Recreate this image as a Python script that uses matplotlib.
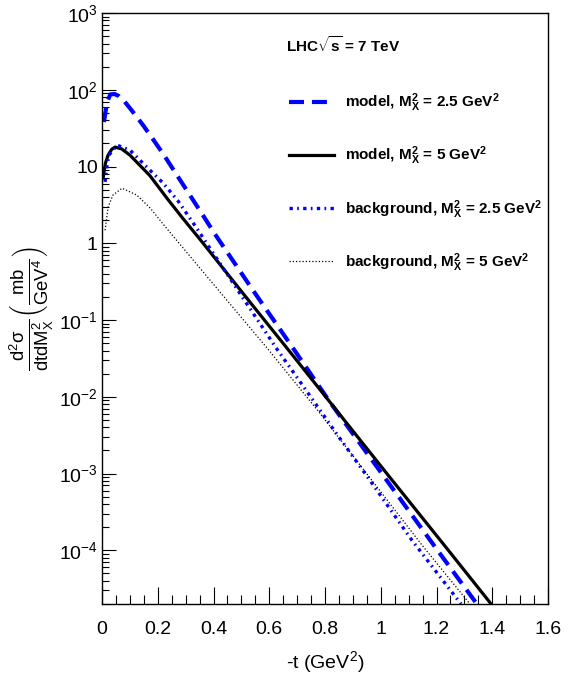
import math
import matplotlib
matplotlib.use('Agg')
import matplotlib.pyplot as plt
from matplotlib.ticker import FixedLocator, MultipleLocator, LogLocator, FuncFormatter, NullFormatter

plt.rcParams['font.family'] = ['Liberation Sans', 'DejaVu Sans']
plt.rcParams['mathtext.fontset'] = 'custom'
plt.rcParams['mathtext.rm'] = 'Liberation Sans'
plt.rcParams['mathtext.it'] = 'Liberation Sans'
plt.rcParams['mathtext.bf'] = 'Liberation Sans:bold'

# -t (GeV^2) and d2sigma/dtdMx2 (mb/GeV^4)
t_model_25 = [0.007, 0.018, 0.030, 0.045, 0.060, 0.080, 0.109, 0.148, 0.184, 0.220,
              0.363, 0.405, 0.543, 0.686, 0.818, 1.202, 1.345]
y_model_25 = [38.0, 69.0, 87.0, 88.0, 83.0, 71.0, 52.5, 34.3, 22.4, 14.5,
              2.29, 1.32, 0.24, 0.0427, 0.0085, 1.02e-4, 2.0e-5]

t_model_5 = [0.004, 0.012, 0.022, 0.035, 0.047, 0.070, 0.100, 0.130, 0.172, 0.237,
             0.291, 0.352, 0.531, 0.664, 1.033, 1.231, 1.396]
y_model_5 = [7.1, 11.0, 14.1, 16.8, 17.9, 17.0, 14.1, 10.9, 7.6, 3.7,
             2.09, 1.12, 0.171, 0.0429, 8.9e-4, 1.13e-4, 2.0e-5]

t_bkg_25 = [0.011, 0.017, 0.025, 0.054, 0.100, 0.161, 0.219, 0.273, 0.341, 0.370,
            0.628, 0.707, 0.843, 0.954, 1.112, 1.288]
y_bkg_25 = [6.3, 9.8, 14.1, 19.0, 16.4, 9.8, 6.1, 3.55, 1.55, 1.07,
            0.0416, 0.0164, 3.24e-3, 8.9e-4, 1.35e-4, 2.0e-5]

t_bkg_5 = [0.011, 0.022, 0.039, 0.072, 0.125, 0.175, 0.226, 0.380, 0.596, 0.782,
           1.148, 1.320]
y_bkg_5 = [1.48, 2.96, 4.24, 5.22, 4.24, 2.82, 1.66, 0.357, 0.0416, 6.1e-3,
           1.17e-4, 2.0e-5]

mx = r'$\mathbf{M}_{\mathbf{X}}^{\mathbf{2}}$'
labels = ['model, ' + mx + r' = 2.5 GeV$^{\mathbf{2}}$',
          'model, ' + mx + r' = 5 GeV$^{\mathbf{2}}$',
          'background, ' + mx + r' = 2.5 GeV$^{\mathbf{2}}$',
          'background, ' + mx + r' = 5 GeV$^{\mathbf{2}}$']

fig = plt.figure(figsize=(5.72, 6.82), dpi=100)
ax = fig.add_axes([102/572, 1 - 604/682, 446/572, 591/682])

ax.plot(t_model_25, y_model_25, color='#0000ff', lw=3.0, dashes=(3.6, 1.9), label=labels[0])
ax.plot(t_model_5, y_model_5, color='black', lw=2.3, label=labels[1])
ax.plot(t_bkg_25, y_bkg_25, color='#0000ff', lw=2.4, dashes=(1.0, 1.3, 0.5, 1.3), label=labels[2])
ax.plot(t_bkg_5, y_bkg_5, color='black', lw=0.9, dashes=(1, 1.6), label=labels[3])

ax.set_yscale('log')
ax.set_xlim(0, 1.6)
ax.set_ylim(2e-5, 1e3)

ax.xaxis.set_major_locator(MultipleLocator(0.2))
ax.xaxis.set_minor_locator(MultipleLocator(0.05))
ax.xaxis.set_major_formatter(FuncFormatter(lambda v, p: '%g' % round(v, 2)))

def ylab(v, p):
    if abs(v - 1) < 1e-9:
        return '1'
    if abs(v - 10) < 1e-9:
        return '10'
    return r'$10^{%d}$' % round(math.log10(v))

ax.yaxis.set_major_locator(FixedLocator([1e-4, 1e-3, 1e-2, 1e-1, 1, 10, 1e2, 1e3]))
ax.yaxis.set_major_formatter(FuncFormatter(ylab))
ax.yaxis.set_minor_locator(LogLocator(base=10, subs=range(2, 10), numticks=20))
ax.yaxis.set_minor_formatter(NullFormatter())

ax.tick_params(which='both', direction='in', top=False, right=False, labelsize=14, width=0.8)
ax.tick_params(axis='x', which='major', length=12, pad=12)
ax.tick_params(axis='x', which='minor', length=6.5)
ax.tick_params(axis='y', which='major', length=10, pad=3)
ax.tick_params(axis='y', which='minor', length=5)
for s in ax.spines.values():
    s.set_linewidth(1.0)

ax.set_xlabel(r'-t (GeV$^{2}$)', fontsize=14, labelpad=8)
ax.set_ylabel(r'$\frac{\mathrm{d^2\sigma}}{\mathrm{dtdM_X^2}}\left(\frac{\mathrm{mb}}{\mathrm{GeV^4}}\right)$',
              fontsize=19, labelpad=2)

ax.text(0.413, 0.946, r'LHC$\sqrt{\mathbf{s}}$ = 7 TeV', transform=ax.transAxes,
        fontsize=11, fontweight='bold', va='center', ha='left')

ax.legend(loc='upper left', bbox_to_anchor=(0.42, 0.867), frameon=False,
          prop={'size': 11, 'weight': 'bold'}, handlelength=2.95, handletextpad=0.7,
          labelspacing=2.0, borderpad=0, borderaxespad=0)

fig.savefig('out.png', dpi=100)
